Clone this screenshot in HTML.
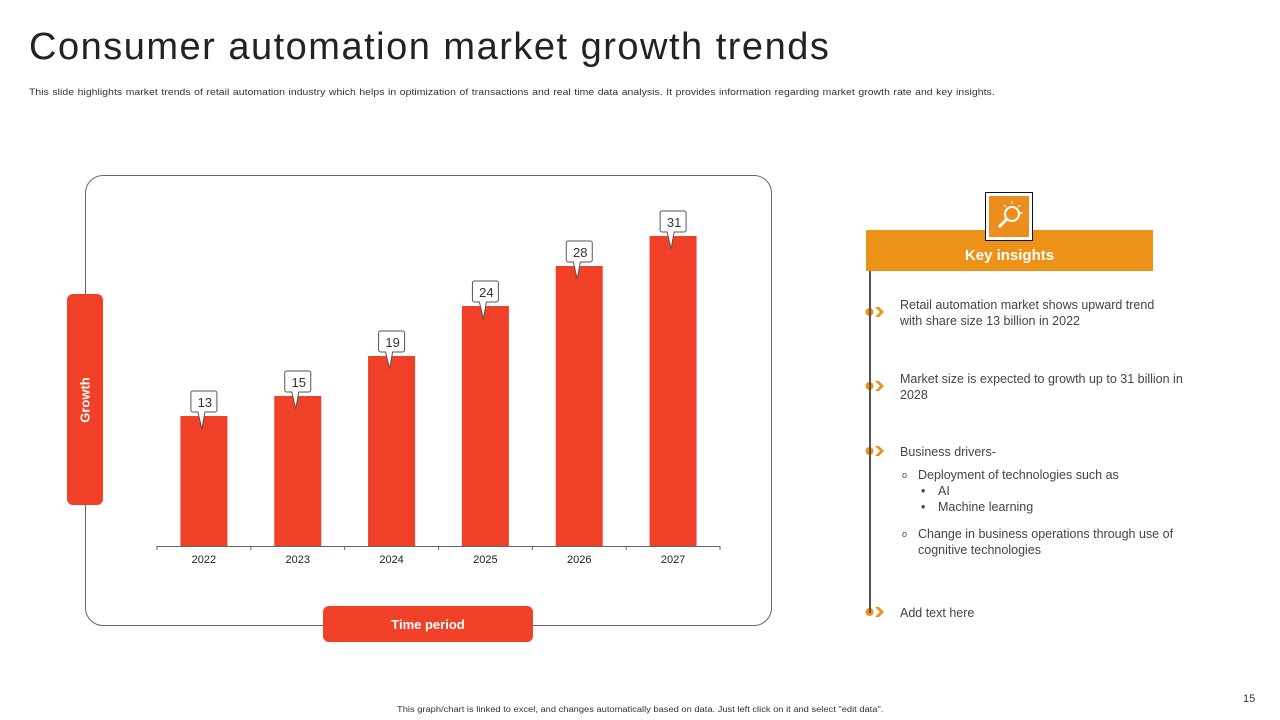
<!DOCTYPE html>
<html><head><meta charset="utf-8"><style>
body{margin:0;width:1280px;height:720px;background:#fff;position:relative;overflow:hidden;font-family:"Liberation Sans",sans-serif;color:#333}
.abs{position:absolute}
.t{font-size:12.5px;color:#444;line-height:16px}
</style></head><body>
<div class="abs" style="left:29px;top:26px;font-size:38px;color:#222;letter-spacing:1.5px">Consumer automation market growth trends</div>
<div class="abs" style="left:29px;top:87px;font-size:9.5px;color:#333;letter-spacing:0.05px;word-spacing:0.5px;white-space:nowrap;transform-origin:0 0;transform:scaleX(1.097)">This slide highlights market trends of retail automation industry which helps in optimization of transactions and real time data analysis. It provides information regarding market growth rate and key insights.</div>

<div class="abs" style="left:85px;top:175px;width:685px;height:449px;border:1px solid #666;border-radius:18px"></div>
<div class="abs" style="left:67px;top:294px;width:36px;height:211px;background:#f04128;border-radius:6px;color:#fff;font-weight:bold;font-size:13px">
<div style="position:absolute;left:50%;top:50%;transform:translate(-50%,-50%) rotate(-90deg);white-space:nowrap">Growth</div></div>
<div class="abs" style="left:323px;top:606px;width:210px;height:36px;background:#f04128;border-radius:6px;color:#fff;font-weight:bold;font-size:13px;text-align:center;line-height:38px">Time period</div>

<svg class="abs" id="chart" style="left:0;top:0" width="1280" height="720"></svg>

<div class="abs" style="left:866px;top:230px;width:287px;height:41px;background:#ec9219;color:#fff;font-weight:bold;font-size:15px;text-align:center;line-height:52px">Key insights</div>
<div class="abs" style="left:985px;top:192px;width:46px;height:47px;border:1.5px solid #111;background:#fff;z-index:2">
<div style="position:absolute;left:3px;top:3px;width:40px;height:41px;background:#ec8e1d">
<svg width="40" height="41"><circle cx="23" cy="18" r="7" fill="none" stroke="#fff" stroke-width="2"/><line x1="18" y1="23" x2="10" y2="31" stroke="#fff" stroke-width="3"/><g stroke="#fff" stroke-width="1.2"><line x1="23" y1="5" x2="23" y2="8"/><line x1="31" y1="9" x2="29" y2="11"/><line x1="15" y1="9" x2="17" y2="11"/><line x1="34" y1="17" x2="31" y2="17"/></g></svg></div></div>
<div class="abs" style="left:869px;top:271px;width:1.5px;height:342px;background:#555"></div>

<div class="abs t" style="left:900px;top:297px;width:275px">Retail automation market shows upward trend with share size 13 billion in 2022</div>
<div class="abs t" style="left:900px;top:371px;width:290px">Market size is expected to growth up to 31 billion in 2028</div>
<div class="abs t" style="left:900px;top:444px;width:290px">Business drivers-</div>
<div class="abs t" style="left:900px;top:467px;width:295px">
<div style="position:relative;padding-left:18px"><span style="position:absolute;left:2px;font-size:9px">o</span>Deployment of technologies such as</div>
<div style="position:relative;padding-left:38px"><span style="position:absolute;left:21px">•</span>AI</div>
<div style="position:relative;padding-left:38px"><span style="position:absolute;left:21px">•</span>Machine learning</div>
<div style="position:relative;padding-left:18px;margin-top:11px"><span style="position:absolute;left:2px;font-size:9px">o</span>Change in business operations through use of cognitive technologies</div>
</div>
<div class="abs t" style="left:900px;top:605px;width:290px">Add text here</div>

<div class="abs" style="left:397px;top:705px;font-size:8px;color:#333;white-space:nowrap;transform-origin:0 0;transform:scaleX(1.165)">This graph/chart is linked to excel, and changes automatically based on data. Just left click on it and select "edit data".</div>
<div class="abs" style="left:1243px;top:693px;font-size:11px;color:#333">15</div>

<script>
const categories=["2022","2023","2024","2025","2026","2027"];
const values=[13,15,19,24,28,31];
const NS="http://www.w3.org/2000/svg";
const svg=document.getElementById('chart');
const x0=157,x1=720,base=546,pxPer=10,bw=47;
const step=(x1-x0)/categories.length;
const xc=i=>x0+step*(i+0.5);
const yv=v=>base-v*pxPer;
function mk(t,a){const e=document.createElementNS(NS,t);for(const k in a)e.setAttribute(k,a[k]);svg.appendChild(e);return e;}
categories.forEach((c,i)=>{
  const b=mk('rect',{x:xc(i)-bw/2,y:yv(values[i]),width:bw,height:base-yv(values[i]),fill:'#f04128'});
  
  
  const tk=mk('text',{x:xc(i),y:base+17,'text-anchor':'middle','font-size':'11','fill':'#222','font-family':'Liberation Sans'});
  tk.textContent=c;
  
  
  const cx=xc(i),ty=yv(values[i]);
  const p=`M${cx-11},${ty-25} h22 a2,2 0 0 1 2,2 v17 a2,2 0 0 1 -2,2 h-10 l-3,17 l-4,-17 h-5 a2,2 0 0 1 -2,-2 v-17 a2,2 0 0 1 2,-2 z`;
  const cl=mk('path',{d:p,fill:'#fff',stroke:'#555','stroke-width':'1'});
  
  
  const lb=mk('text',{x:cx+1,y:ty-9,'text-anchor':'middle','font-size':'13','fill':'#333','font-family':'Liberation Sans'});
  lb.textContent=values[i];
  
  
});
const ax=mk('line',{x1:x0,y1:base+0.5,x2:x1,y2:base+0.5,stroke:'#666','stroke-width':'1'});


for(let i=0;i<=categories.length;i++){mk('line',{x1:x0+step*i,y1:base,x2:x0+step*i,y2:base+4,stroke:'#666'});}
[312,386,451,612].forEach((y,i)=>{
  const g=document.createElementNS(NS,'g');svg.appendChild(g);
  
  
  const c=document.createElementNS(NS,'circle');c.setAttribute('cx',869.5);c.setAttribute('cy',y);c.setAttribute('r',4);c.setAttribute('fill','#ec9219');g.appendChild(c);
  const pl=document.createElementNS(NS,'path');pl.setAttribute('d',`M875,${y-5} l4,0 l5,5 l-5,5 l-4,0 l5,-5 z`);pl.setAttribute('fill','#ec9219');g.appendChild(pl);
});
</script>
</body></html>
